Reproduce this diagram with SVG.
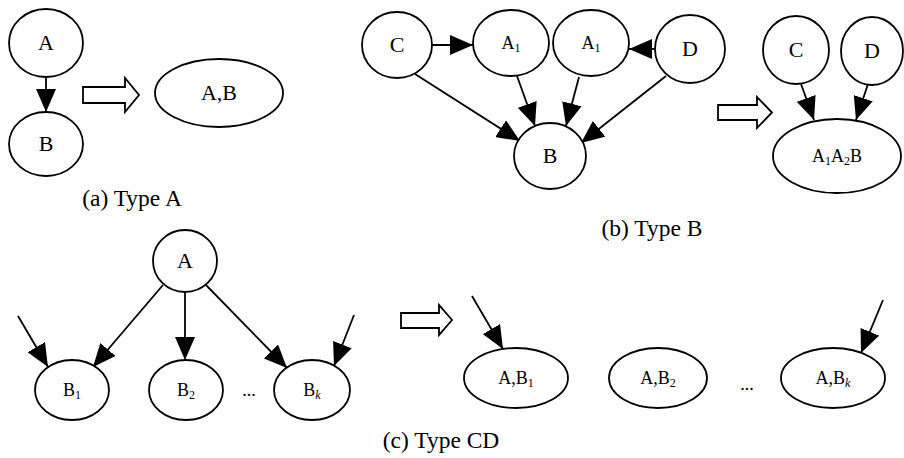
<svg xmlns="http://www.w3.org/2000/svg" width="904" height="458" viewBox="0 0 904 458">
  <defs>
    <marker id="ah" markerWidth="23" markerHeight="20" refX="23" refY="10" orient="auto" markerUnits="userSpaceOnUse">
      <path d="M0,0 L23,10 L0,20 Z" fill="#000"/>
    </marker>
  </defs>
  <style>
    .n { fill: #fff; stroke: #000; stroke-width: 1.8; }
    .e { fill: none; stroke: #000; stroke-width: 1.8; marker-end: url(#ah); }
    .big { fill: #fff; stroke: #000; stroke-width: 1.8; }
    text { font-family: "Liberation Serif", "Times New Roman", serif; fill: #000; text-anchor: middle; }
    .lb { font-size: 22px; }
    .ls { font-size: 18px; }
    .sub { font-size: 12px; }
    .cap { font-size: 23.5px; }
  </style>

  <rect width="904" height="458" fill="#fff"/>

  <!-- connectors -->
  <g id="connectors">
    <!-- (a) -->
    <line class="e" x1="46" y1="77" x2="46" y2="112"/>
    <!-- (b) -->
    <line class="e" x1="432" y1="45" x2="473" y2="45"/>
    <line class="e" x1="415" y1="74" x2="520" y2="141"/>
    <line class="e" x1="517" y1="76" x2="535" y2="126"/>
    <line class="e" x1="579" y1="77" x2="566" y2="126"/>
    <line class="e" x1="666" y1="76" x2="581" y2="143"/>
    <line class="e" x1="655" y1="49" x2="629" y2="49"/>
    <line class="e" x1="801" y1="84" x2="814" y2="120"/>
    <line class="e" x1="868" y1="84" x2="856" y2="120"/>
    <!-- (c) -->
    <line class="e" x1="163" y1="285" x2="93" y2="367"/>
    <line class="e" x1="185" y1="292" x2="185" y2="360"/>
    <line class="e" x1="205" y1="284" x2="287" y2="368"/>
    <line class="e" x1="18" y1="316" x2="48" y2="367"/>
    <line class="e" x1="354" y1="315" x2="334" y2="366"/>
    <line class="e" x1="472" y1="296" x2="503" y2="349"/>
    <line class="e" x1="883" y1="300" x2="861" y2="353"/>
  </g>

  <!-- transformation arrows -->
  <g id="transform-arrows">
    <path class="big" d="M83,87 H125 V78 L139,95 L125,112 V103 H83 Z"/>
    <path class="big" d="M718,105 H757 V97 L772,112.5 L757,128 V120 H718 Z"/>
    <path class="big" d="M401,313 H439 V305 L452,320 L439,335 V328 H401 Z"/>
  </g>

  <!-- (a) Type A -->
  <g id="a-A">
    <ellipse class="n" cx="46" cy="43" rx="37" ry="34"/>
    <text class="lb" x="46" y="50">A</text>
  </g>
  <g id="a-B">
    <ellipse class="n" cx="46" cy="144" rx="37" ry="32"/>
    <text class="lb" x="46" y="151">B</text>
  </g>
  <g id="a-AB">
    <ellipse class="n" cx="219" cy="93" rx="64" ry="34"/>
    <text class="lb" x="219" y="100">A,B</text>
  </g>
  <text class="cap" x="132" y="206">(a) Type A</text>

  <!-- (b) Type B -->
  <g id="b-C">
    <ellipse class="n" cx="397" cy="45" rx="35" ry="33"/>
    <text class="lb" x="397" y="52">C</text>
  </g>
  <g id="b-A1-left">
    <ellipse class="n" cx="511" cy="43" rx="38" ry="33"/>
    <text class="ls" x="511" y="49">A<tspan class="sub" dy="3">1</tspan></text>
  </g>
  <g id="b-A1-right">
    <ellipse class="n" cx="591" cy="43" rx="38" ry="33"/>
    <text class="ls" x="591" y="49">A<tspan class="sub" dy="3">1</tspan></text>
  </g>
  <g id="b-D">
    <ellipse class="n" cx="690" cy="49" rx="35" ry="34"/>
    <text class="lb" x="690" y="56">D</text>
  </g>
  <g id="b-B">
    <ellipse class="n" cx="550" cy="156" rx="36" ry="33"/>
    <text class="lb" x="550" y="163">B</text>
  </g>
  <g id="b-C2">
    <ellipse class="n" cx="796" cy="50" rx="33" ry="34"/>
    <text class="lb" x="796" y="57">C</text>
  </g>
  <g id="b-D2">
    <ellipse class="n" cx="872" cy="51" rx="31" ry="34"/>
    <text class="lb" x="872" y="58">D</text>
  </g>
  <g id="b-A1A2B">
    <ellipse class="n" cx="837" cy="156" rx="64" ry="37"/>
    <text class="ls" x="837" y="162">A<tspan class="sub" dy="3">1</tspan><tspan dy="-3">A</tspan><tspan class="sub" dy="3">2</tspan><tspan dy="-3">B</tspan></text>
  </g>
  <text class="cap" x="652" y="236">(b) Type B</text>

  <!-- (c) Type CD -->
  <g id="c-A">
    <ellipse class="n" cx="185" cy="261" rx="32" ry="31"/>
    <text class="lb" x="185" y="268">A</text>
  </g>
  <g id="c-B1">
    <ellipse class="n" cx="72" cy="390" rx="37" ry="30"/>
    <text class="ls" x="72" y="396">B<tspan class="sub" dy="3">1</tspan></text>
  </g>
  <g id="c-B2">
    <ellipse class="n" cx="186" cy="390" rx="37" ry="30"/>
    <text class="ls" x="186" y="396">B<tspan class="sub" dy="3">2</tspan></text>
  </g>
  <g id="c-Bk">
    <ellipse class="n" cx="312" cy="390" rx="38" ry="30"/>
    <text class="ls" x="312" y="396">B<tspan class="sub" dy="3" font-style="italic">k</tspan></text>
  </g>
  <text class="ls" x="249" y="396">...</text>
  <g id="c-AB1">
    <ellipse class="n" cx="516" cy="378" rx="52" ry="30"/>
    <text class="ls" x="516" y="384">A,B<tspan class="sub" dy="3">1</tspan></text>
  </g>
  <g id="c-AB2">
    <ellipse class="n" cx="658" cy="378" rx="49" ry="30"/>
    <text class="ls" x="658" y="384">A,B<tspan class="sub" dy="3">2</tspan></text>
  </g>
  <g id="c-ABk">
    <ellipse class="n" cx="833" cy="378" rx="52" ry="30"/>
    <text class="ls" x="833" y="384">A,B<tspan class="sub" dy="3" font-style="italic">k</tspan></text>
  </g>
  <text class="ls" x="747" y="390">...</text>
  <text class="cap" x="441" y="448">(c) Type CD</text>
</svg>
